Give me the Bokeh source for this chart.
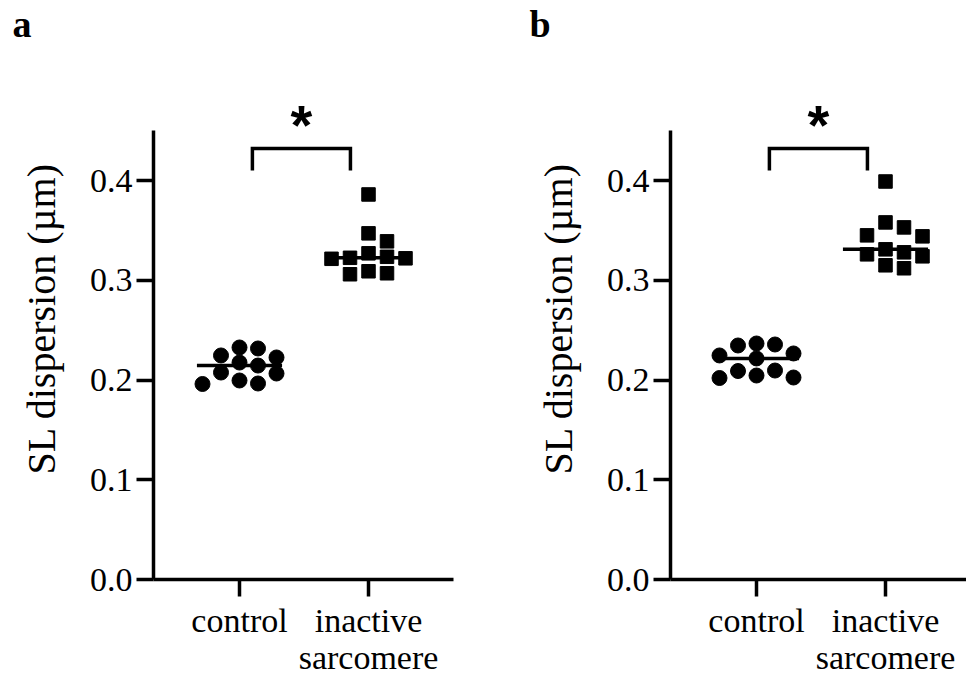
import numpy as np
from bokeh.plotting import figure
from bokeh.layouts import row
from bokeh.models import FixedTicker, Range1d
from bokeh.core.properties import value
from bokeh.embed import file_html
from bokeh.resources import INLINE

# ---------------- data ----------------
categories = ["control", "inactive\nsarcomere"]
y_ticks = [0.0, 0.1, 0.2, 0.3, 0.4]
y_tick_labels = ["0.0", "0.1", "0.2", "0.3", "0.4"]
y_title = "SL dispersion (\u00b5m)"

a_control = [0.1965, 0.2226, 0.2075, 0.2316, 0.2145, 0.1995, 0.2246, 0.2065, 0.2326, 0.2175, 0.1960]
a_inactive = [0.386, 0.347, 0.339, 0.327, 0.3215, 0.3235, 0.322, 0.3225, 0.306, 0.309, 0.307]

b_control = [0.2025, 0.2366, 0.2246, 0.2095, 0.2346, 0.2216, 0.2045, 0.2266, 0.2090, 0.2356, 0.2020]
b_inactive = [0.399, 0.358, 0.344, 0.326, 0.312, 0.353, 0.328, 0.331, 0.315, 0.345, 0.324]

panel_letters = ["a", "b"]
significance = "*"

# ---------------- layout / style ----------------
FONT = "Liberation Serif"
H = 679
PX_X = 129.0            # pixels per x unit
PX_Y = 997.5            # pixels per y unit
CTRL_PX = 239           # pixel column of category 1 inside each figure
ZERO_PX = 579           # pixel row of y = 0
Y_TOP = 0.45
X_LO, X_HI = 1 / 3, 1 + (453 - 239) / 129.0
SLOT_PX = 18.5
DIAM_PX = 15.0


def swarm(values, center):
    vals = np.asarray(values, dtype=float)
    order = np.argsort(-vals, kind="stable")
    slot = SLOT_PX / PX_X
    cands = [0, 1, -1, 2, -2, 3, -3, 4, -4]
    placed = []
    xs = np.zeros_like(vals)
    for i in order:
        for k in cands:
            x = k * slot
            ok = True
            for (xo, yo) in placed:
                d2 = ((x - xo) * PX_X) ** 2 + ((vals[i] - yo) * PX_Y) ** 2
                if d2 < (DIAM_PX - 0.5) ** 2:
                    ok = False
                    break
            if ok:
                xs[i] = x
                placed.append((x, vals[i]))
                break
    return xs + center


def make_panel(control, inactive, letter, width, axis_end=None):
    x_start = 1 - CTRL_PX / PX_X
    x_end = x_start + width / PX_X
    y_end = ZERO_PX / PX_Y
    y_start = y_end - H / PX_Y

    def dx(px):
        return x_start + px / PX_X

    def dy(py):
        return (ZERO_PX - py) / PX_Y

    p = figure(width=width, height=H, output_backend="svg", toolbar_location=None,
               x_range=Range1d(x_start, x_end), y_range=Range1d(y_start, y_end),
               min_border=0, min_border_left=0, min_border_right=0,
               min_border_top=0, min_border_bottom=0)
    p.outline_line_color = None
    p.xgrid.visible = False
    p.ygrid.visible = False
    p.background_fill_color = "white"
    p.border_fill_color = "white"

    for ax in (p.xaxis[0], p.yaxis[0]):
        ax.axis_line_width = 3.5
        ax.axis_line_color = "black"
        ax.major_tick_line_width = 3.5
        ax.major_tick_line_color = "black"
        ax.major_tick_in = 0
        ax.major_tick_out = 17
        ax.minor_tick_line_color = None
        ax.major_label_text_font = FONT
        ax.major_label_text_font_size = "34px"
        ax.major_label_text_color = "black"

    p.xaxis.fixed_location = 0.0
    p.xaxis.bounds = (X_LO, X_HI if axis_end is None else x_end)
    p.xaxis.ticker = FixedTicker(ticks=[1, 2])
    p.xaxis.major_label_overrides = {1: categories[0], 2: categories[1]}
    p.xaxis.major_label_standoff = 5
    p.xaxis[0].major_label_text_line_height = 1.0

    p.yaxis.fixed_location = X_LO
    p.yaxis.bounds = (0.0, Y_TOP)
    p.yaxis.ticker = FixedTicker(ticks=y_ticks)
    p.yaxis.major_label_overrides = {t: l for t, l in zip(y_ticks, y_tick_labels)}
    p.yaxis.major_label_standoff = 4

    # axis title (rotated real text)
    p.text(x=[dx(41)], y=[dy(318)], text=[y_title], angle=np.pi / 2,
           text_font=value(FONT), text_font_size="40px", text_align="center",
           text_baseline="middle", text_color="black")

    cx = swarm(control, 1)
    ix = swarm(inactive, 2)
    p.scatter(cx, control, marker="circle", size=15, color="black")
    p.scatter(ix, inactive, marker="square", size=13.5, color="black")

    half = 0.33
    for c, vals in ((1, control), (2, inactive)):
        m = float(np.median(vals))
        p.segment(x0=[c - half], y0=[m], x1=[c + half], y1=[m], line_width=3.5, color="black")

    # significance bracket
    bl, br = 1 + 0.10, 2 - 0.14
    top = dy(148)
    low = dy(170)
    p.line([bl, bl, br, br], [low, top, top, low], line_width=3.5,
           color="black", line_join="miter")
    p.text(x=[(bl + br) / 2], y=[dy(124)], text=[significance],
           text_font=value("Liberation Sans"), text_font_style="bold",
           text_font_size="56px", text_align="center", text_baseline="middle",
           text_color="black")

    p.text(x=[dx(12)], y=[dy(23)], text=[letter], text_font=value(FONT),
           text_font_style="bold", text_font_size="38px", text_align="left",
           text_baseline="alphabetic", text_color="black")
    return p


pa = make_panel(a_control, a_inactive, panel_letters[0], 517)
pb = make_panel(b_control, b_inactive, panel_letters[1], 449, axis_end=True)

layout = row(pa, pb)
open("out.html", "w").write(file_html(layout, INLINE))
